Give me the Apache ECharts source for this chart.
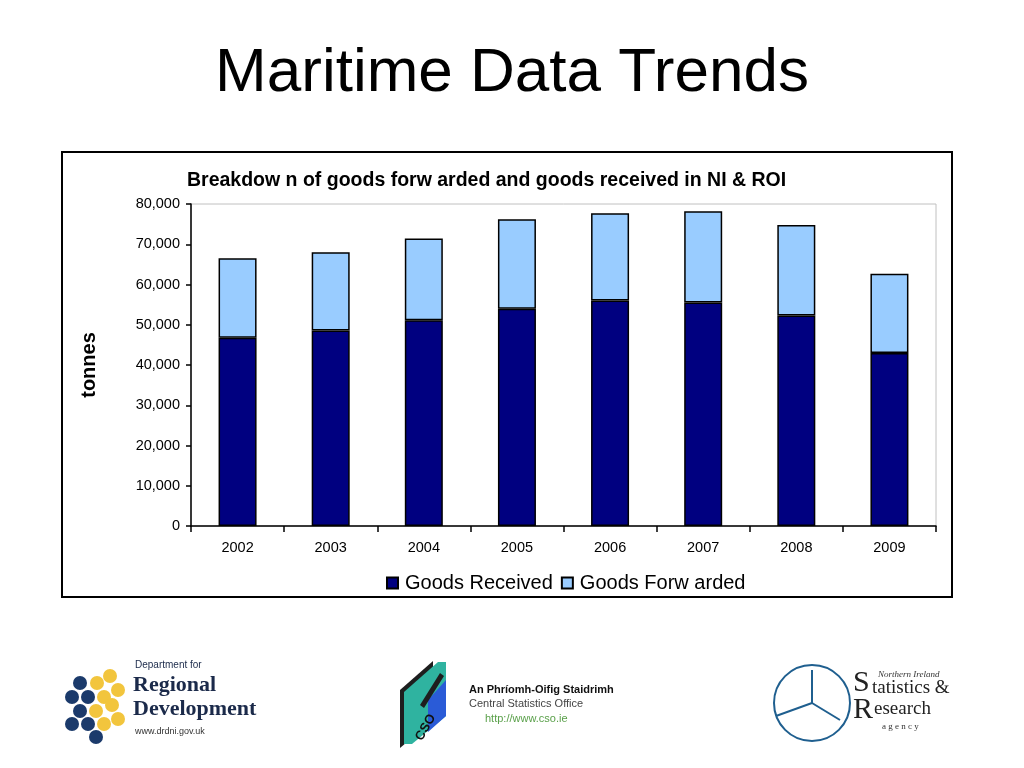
<!DOCTYPE html>
<html>
<head>
<meta charset="utf-8">
<script src="https://cdn.jsdelivr.net/npm/echarts@6/dist/echarts.min.js"></script>
<style>
html,body{margin:0;padding:0;background:#fff;}
#main{width:1024px;height:768px;}
</style>
</head>
<body>
<div id="main"></div>
<script>
var years = ['2002','2003','2004','2005','2006','2007','2008','2009'];
var goodsReceived = [46800, 48600, 51100, 54000, 56000, 55500, 52300, 43000];
var goodsForwarded = [19700, 19400, 20300, 22200, 21700, 22700, 22500, 19700];
var seriesNames = ['Goods Received', 'Goods Forw arded'];
var pageTitle = 'Maritime Data Trends';
var chartTitle = 'Breakdow n of goods forw arded and goods received in NI & ROI';
var yAxisName = 'tonnes';

var chart = echarts.init(document.getElementById('main'), null, {renderer:'canvas'});

function hexCircles(){
  var navy = '#1b3a6b', yellow = '#f2c53d';
  var pts = [
    [80,683,navy],[97,683,yellow],[110,676,yellow],
    [72,697,navy],[88,697,navy],[104,697,yellow],[118,690,yellow],
    [80,711,navy],[96,711,yellow],[112,705,yellow],[118,719,yellow],
    [72,724,navy],[88,724,navy],[104,724,yellow],
    [96,737,navy]
  ];
  return pts.map(function(p){
    return {type:'circle', shape:{cx:p[0], cy:p[1], r:7}, style:{fill:p[2]}};
  });
}

var option = {
  backgroundColor:'#ffffff',
  animation:false,
  title:{
    text: pageTitle,
    left:'center',
    top:38,
    textStyle:{fontFamily:'Liberation Sans', fontSize:62, fontWeight:'normal', color:'#000'}
  },
  grid:{left:191, right:88, top:204, bottom:242, show:true, borderColor:'#c0c0c0', borderWidth:1, backgroundColor:'transparent'},
  legend:{
    data: seriesNames,
    left:381, top:568,
    icon:'rect', itemWidth:11, itemHeight:11, itemGap:8,
    textStyle:{fontFamily:'Liberation Sans', fontSize:20, color:'#000', padding:[0,0,0,2]}
  },
  xAxis:{
    type:'category',
    data: years,
    axisLine:{lineStyle:{color:'#000', width:1.5}},
    axisTick:{show:true, alignWithLabel:false, length:6, lineStyle:{color:'#000', width:1.5}},
    axisLabel:{color:'#000', fontFamily:'Liberation Sans', fontSize:14.5, margin:14},
    splitLine:{show:false}
  },
  yAxis:{
    type:'value',
    min:0, max:80000, interval:10000,
    name: yAxisName,
    nameLocation:'middle',
    nameGap:92,
    nameRotate:90,
    nameTextStyle:{fontFamily:'Liberation Sans', fontSize:20, fontWeight:'bold', color:'#000'},
    axisLine:{show:true, lineStyle:{color:'#000', width:1.5}},
    axisTick:{show:true, length:5, lineStyle:{color:'#000', width:1.5}},
    axisLabel:{color:'#000', fontFamily:'Liberation Sans', fontSize:14.5, margin:11,
      formatter:function(v){return v.toLocaleString('en-US');}},
    splitLine:{show:false}
  },
  series:[
    {name: seriesNames[0], type:'bar', stack:'total', data: goodsReceived, barWidth:38,
     itemStyle:{color:'#000080', borderColor:'#000', borderWidth:1.5}},
    {name: seriesNames[1], type:'bar', stack:'total', data: goodsForwarded, barWidth:38,
     itemStyle:{color:'#99ccff', borderColor:'#000', borderWidth:1.5}}
  ],
  graphic:[
    {type:'rect', shape:{x:62, y:152, width:890, height:445}, style:{fill:'none', stroke:'#000', lineWidth:2}, z:-1},
    {type:'text', left:187, top:171, style:{text: chartTitle, font:'bold 19.5px "Liberation Sans"', fill:'#000'}},
    // DRD logo
    {type:'group', children: hexCircles()},
    {type:'text', left:135, top:660, style:{text:'Department for', font:'10px "Liberation Sans"', fill:'#1b2a4a'}},
    {type:'text', left:133, top:674, style:{text:'Regional', font:'bold 22px "Liberation Serif"', fill:'#1b2a4a'}},
    {type:'text', left:133, top:698, style:{text:'Development', font:'bold 22px "Liberation Serif"', fill:'#1b2a4a'}},
    {type:'text', left:135, top:727, style:{text:'www.drdni.gov.uk', font:'9px "Liberation Sans"', fill:'#333'}},
    // CSO logo
    {type:'polygon', shape:{points:[[400,690],[433,661],[433,720],[400,748]]}, style:{fill:'#1e1e1e'}},
    {type:'polygon', shape:{points:[[404,692],[438,662],[446,662],[446,716],[412,744],[404,744]]}, style:{fill:'#2fb3a0'}},
    {type:'polygon', shape:{points:[[428,700],[446,680],[446,716],[428,732]]}, style:{fill:'#2a5bd7'}},
    {type:'polygon', shape:{points:[[420,705],[440,673],[444,676],[424,708]]}, style:{fill:'#1e1e1e'}},
    {type:'text', left:413, top:712, rotation:Math.PI/3, style:{text:'CSO', font:'bold 13px "Liberation Sans"', fill:'#111'}},
    {type:'text', left:469, top:684, style:{text:'An Phríomh-Oifig Staidrimh', font:'bold 11px "Liberation Sans"', fill:'#111'}},
    {type:'text', left:469, top:698, style:{text:'Central Statistics Office', font:'11px "Liberation Sans"', fill:'#444'}},
    {type:'text', left:485, top:713, style:{text:'http://www.cso.ie', font:'11px "Liberation Sans"', fill:'#5aa04a'}},
    // NISRA logo
    {type:'circle', shape:{cx:812, cy:703, r:38}, style:{fill:'none', stroke:'#1f5f8f', lineWidth:2}},
    {type:'polyline', shape:{points:[[812,703],[812,670]]}, style:{stroke:'#1f5f8f', lineWidth:2, fill:'none'}},
    {type:'polyline', shape:{points:[[812,703],[840,720]]}, style:{stroke:'#1f5f8f', lineWidth:2, fill:'none'}},
    {type:'polyline', shape:{points:[[812,703],[776,716]]}, style:{stroke:'#1f5f8f', lineWidth:2, fill:'none'}},
    {type:'text', left:878, top:670, style:{text:'Northern Ireland', font:'italic 9px "Liberation Serif"', fill:'#333'}},
    {type:'text', left:853, top:668, style:{text:'S', font:'30px "Liberation Serif"', fill:'#222'}},
    {type:'text', left:872, top:679, style:{text:'tatistics &', font:'19px "Liberation Serif"', fill:'#222'}},
    {type:'text', left:853, top:695, style:{text:'R', font:'30px "Liberation Serif"', fill:'#222'}},
    {type:'text', left:874, top:700, style:{text:'esearch', font:'19px "Liberation Serif"', fill:'#222'}},
    {type:'text', left:882, top:722, style:{text:'a g e n c y', font:'9px "Liberation Serif"', fill:'#333'}}
  ]
};
chart.setOption(option);
</script>
</body>
</html>
